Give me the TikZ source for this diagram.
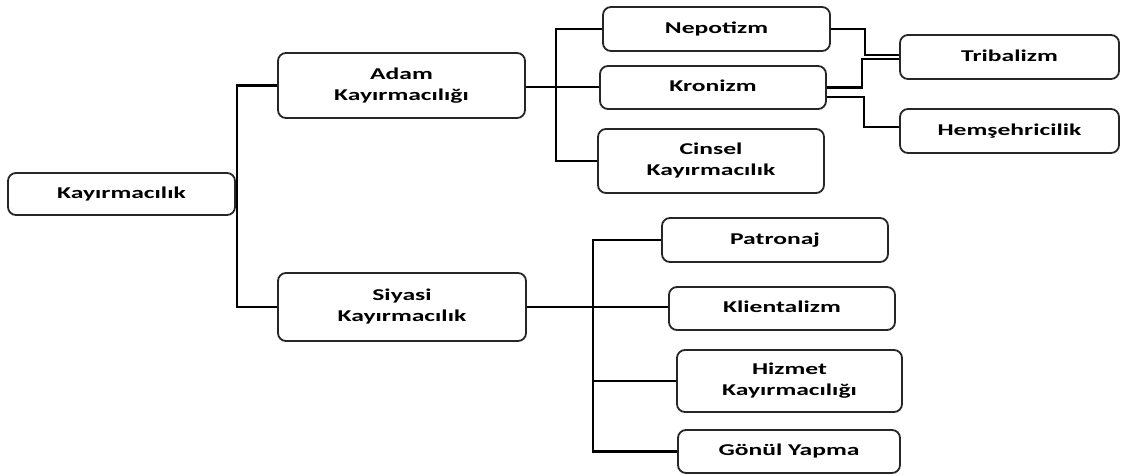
\documentclass[tikz,border=0pt]{standalone}
\usepackage{fontspec}
\setmainfont{Carlito}
\usepackage{graphicx}
\newcommand{\bxt}[1]{\scalebox{1.55}[1]{\fontsize{16.5}{21}\selectfont\bfseries\begin{tabular}{@{}c@{}}#1\end{tabular}}}
\tikzset{
  box/.style={draw=black!85, rounded corners=8pt, line width=1.8pt, inner sep=0pt, align=center, fill=white},
  conn/.style={draw=black, line width=2.8pt},
}
\begin{document}
\begin{tikzpicture}[x=1pt,y=-1pt]
\useasboundingbox (0,0) rectangle (1122,475);
% nodes
\node[box, minimum width=227pt, minimum height=42pt] (kay) at (121.5,194) {\bxt{Kayırmacılık}};
\node[box, minimum width=247pt, minimum height=65pt] (adam) at (401.5,85.5) {\bxt{Adam\\Kayırmacılığı}};
\node[box, minimum width=248pt, minimum height=68pt] (siy) at (402,307) {\bxt{Siyasi\\Kayırmacılık}};
\node[box, minimum width=227pt, minimum height=44pt] (nep) at (716.5,29) {\bxt{Nepotizm}};
\node[box, minimum width=226pt, minimum height=43pt] (kro) at (713,87.5) {\bxt{Kronizm}};
\node[box, minimum width=226pt, minimum height=64pt] (cin) at (711,161) {\bxt{Cinsel\\Kayırmacılık}};
\node[box, minimum width=219pt, minimum height=44pt] (tri) at (1009.5,57) {\bxt{Tribalizm}};
\node[box, minimum width=219pt, minimum height=44pt] (hem) at (1009.5,131) {\bxt{Hemşehricilik}};
\node[box, minimum width=226pt, minimum height=44pt] (pat) at (775,240) {\bxt{Patronaj}};
\node[box, minimum width=226pt, minimum height=43pt] (kli) at (782,308.5) {\bxt{Klientalizm}};
\node[box, minimum width=225pt, minimum height=62pt] (hiz) at (789.5,381) {\bxt{Hizmet\\Kayırmacılığı}};
\node[box, minimum width=222pt, minimum height=43pt] (gon) at (789,451.5) {\bxt{Gönül Yapma}};
% trunk coordinates
\coordinate (t1) at (237,194);
\coordinate (t2) at (556,87);
\coordinate (t3) at (593,307);
% level 1
\draw[conn] (adam.west) -| (t1) |- (siy.west);
\draw[conn] (kay.east) -- (t1);
% adam children
\draw[conn] (nep.west) -| (t2) |- (cin.west);
\draw[conn] (adam.east |- t2) -- (kro.west |- t2);
% to tribalizm / hemsehricilik
\draw[conn, line width=2.2pt] (nep.east) -- ++(34,0) |- ([yshift=2pt]tri.west);
\draw[conn, line width=2.2pt] (kro.east) -- ++(35,0) |- ([yshift=-2pt]tri.west);
\draw[conn] ([yshift=-9.5pt]kro.east) -- ++(37,0) |- ([yshift=4pt]hem.west);
% siyasi children
\draw[conn] (siy.east) -- (siy.east -| kli.west);
\draw[conn] (pat.west) -| (t3) |- (gon.west);
\draw[conn] (hiz.west) -- (hiz.west -| t3);
\end{tikzpicture}
\end{document}
